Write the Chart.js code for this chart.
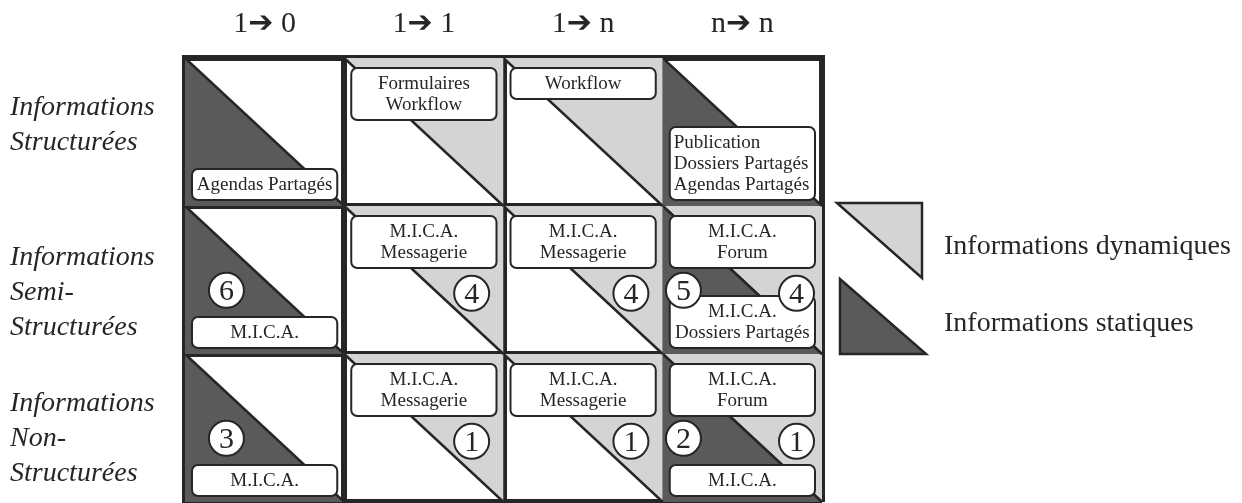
<!DOCTYPE html>
<html>
<head>
<meta charset="utf-8">
<script src="https://cdn.jsdelivr.net/npm/chart.js@4.4.1/dist/chart.umd.min.js"></script>
<style>
html, body { margin: 0; padding: 0; background: #fff; }
</style>
</head>
<body>
<canvas id="matrix" width="1242" height="503"></canvas>
<script>
// axes
const colLabels = ['1➔ 0', '1➔ 1', '1➔ n', 'n➔ n']
const rowLabels = [
    ['Informations', 'Structurées'],
    ['Informations', 'Semi-', 'Structurées'],
    ['Informations', 'Non-', 'Structurées']
]

// which half of each cell is shaded (rows x cols)
const staticCells  = [[1, 0, 0, 1], [1, 0, 0, 1], [1, 0, 0, 1]]
const dynamicCells = [[0, 1, 1, 0], [0, 1, 1, 1], [0, 1, 1, 1]]

// numbers in the circles
const staticCounts  = [[null, null, null, null], [6, null, null, 5], [3, null, null, 2]]
const dynamicCounts = [[null, null, null, null], [null, 4, 4, 4], [null, 1, 1, 1]]

// tools written in the boxes
const staticTools = [
    [['Agendas Partagés'], null, null, ['Publication', 'Dossiers Partagés', 'Agendas Partagés']],
    [['M.I.C.A.'], null, null, ['M.I.C.A.', 'Dossiers Partagés']],
    [['M.I.C.A.'], null, null, ['M.I.C.A.']]
]
const dynamicTools = [
    [null, ['Formulaires', 'Workflow'], ['Workflow'], null],
    [null, ['M.I.C.A.', 'Messagerie'], ['M.I.C.A.', 'Messagerie'], ['M.I.C.A.', 'Forum']],
    [null, ['M.I.C.A.', 'Messagerie'], ['M.I.C.A.', 'Messagerie'], ['M.I.C.A.', 'Forum']]
]

const legendLabels = ['Informations dynamiques', 'Informations statiques']

const INK = '#262626'
const DARK = '#5a5a5a'
const LIGHT = '#d4d4d4'
const SERIF = "'Liberation Serif', 'DejaVu Sans', serif"

let nRows = rowLabels.length
let nCols = colLabels.length

// small vertical nudge of the row titles (in rows)
let rowTitleNudge = [-0.047, 0.084, 0.071]

// triangles: diagonal of each cell filled down (static) or up (dynamic)
let datasets = []
for (let r = 0; r < nRows; r++) {
    for (let c = 0; c < nCols; c++) {
        let diag = [{ x: c, y: r }, { x: c + 1, y: r + 1 }]
        if (staticCells[r][c]) {
            datasets.push({
                type: 'line', data: diag, fill: { value: r + 1 },
                backgroundColor: DARK, borderColor: INK, borderWidth: 2.5,
                pointRadius: 0, tension: 0, order: 2
            })
        }
        if (dynamicCells[r][c]) {
            datasets.push({
                type: 'line', data: diag, fill: { value: r },
                backgroundColor: LIGHT, borderColor: INK, borderWidth: 2.5,
                pointRadius: 0, tension: 0, order: 2
            })
        }
    }
}

// circles with counts
let circles = []
for (let r = 0; r < nRows; r++) {
    for (let c = 0; c < nCols; c++) {
        if (staticCounts[r][c] != null) {
            let dx = dynamicCells[r][c] ? 0.13 : 0.26
            circles.push({ x: c + dx, y: r + 0.57, n: staticCounts[r][c] })
        }
        if (dynamicCounts[r][c] != null) {
            let dx = c === nCols - 1 ? 0.84 : 0.8
            circles.push({ x: c + dx, y: r + 0.59, n: dynamicCounts[r][c] })
        }
    }
}
datasets.push({
    type: 'line', data: circles, showLine: false, isCounts: true,
    pointRadius: 17.5, pointBackgroundColor: '#fff', pointBorderColor: INK,
    pointBorderWidth: 2, order: 0
})

function drawBox(ctx, lines, left, top, width, alignLeft) {
    let h = lines.length * 21 + 10
    ctx.beginPath()
    ctx.roundRect(left, top, width, h, 6)
    ctx.fillStyle = '#fff'
    ctx.fill()
    ctx.lineWidth = 2
    ctx.strokeStyle = INK
    ctx.stroke()
    ctx.fillStyle = INK
    ctx.font = '19px ' + SERIF
    ctx.textBaseline = 'alphabetic'
    ctx.textAlign = alignLeft ? 'left' : 'center'
    lines.forEach((t, i) => {
        let tx = alignLeft ? left + 4 : left + width / 2
        ctx.fillText(t, tx, top + 5 + 21 * i + 16)
    })
}

const toolBoxes = {
    id: 'toolBoxes',
    beforeDatasetDraw(chart, args) {
        if (!chart.data.datasets[args.index].isCounts) return
        const { ctx, scales: { x, y } } = chart
        ctx.save()
        for (let r = 0; r < nRows; r++) {
            for (let c = 0; c < nCols; c++) {
                let left = x.getPixelForValue(c) + 7
                let w = x.getPixelForValue(c + 1) - 7 - left
                let top = y.getPixelForValue(r)
                let bottom = y.getPixelForValue(r + 1)
                if (dynamicTools[r][c]) {
                    drawBox(ctx, dynamicTools[r][c], left, top + 10, w, false)
                }
                if (staticTools[r][c]) {
                    let lines = staticTools[r][c]
                    let h = lines.length * 21 + 10
                    drawBox(ctx, lines, left, bottom - 6 - h, w, lines.length > 2)
                }
            }
        }
        ctx.restore()
    },
    afterDatasetsDraw(chart) {
        const { ctx } = chart
        chart.data.datasets.forEach((ds, i) => {
            if (!ds.isCounts) return
            let meta = chart.getDatasetMeta(i)
            ctx.save()
            ctx.fillStyle = INK
            ctx.font = '30px ' + SERIF
            ctx.textAlign = 'center'
            ctx.textBaseline = 'alphabetic'
            meta.data.forEach((pt, j) => {
                ctx.fillText(String(ds.data[j].n), pt.x, pt.y + 10)
            })
            ctx.restore()
        })
    },
    afterDraw(chart) {
        // legend on the right
        const { ctx, chartArea } = chart
        let lx = chartArea.right + 15
        ctx.save()
        ctx.lineWidth = 2.5
        ctx.strokeStyle = INK
        ctx.lineJoin = 'miter'
        ctx.beginPath()
        ctx.moveTo(lx, 203)
        ctx.lineTo(lx + 85, 203)
        ctx.lineTo(lx + 85, 278)
        ctx.closePath()
        ctx.fillStyle = LIGHT
        ctx.fill()
        ctx.stroke()
        ctx.beginPath()
        ctx.moveTo(lx + 3, 279)
        ctx.lineTo(lx + 3, 354)
        ctx.lineTo(lx + 89, 354)
        ctx.closePath()
        ctx.fillStyle = DARK
        ctx.fill()
        ctx.stroke()
        ctx.fillStyle = INK
        ctx.font = '28px ' + SERIF
        ctx.textAlign = 'left'
        ctx.textBaseline = 'alphabetic'
        ctx.fillText(legendLabels[0], lx + 107, 254)
        ctx.fillText(legendLabels[1], lx + 107, 331)
        ctx.restore()
    }
}

let gridColor = (ctx) => ctx.tick && ctx.tick.value % 1 === 0 ? INK : 'rgba(0,0,0,0)'

let xTicks = []
for (let i = 0; i <= nCols * 2; i++) xTicks.push(i / 2)
let yTicks = []
for (let r = 0; r <= nRows; r++) {
    yTicks.push(r)
    if (r < nRows) yTicks.push(r + 0.5 + rowTitleNudge[r])
}

let matrix = new Chart(document.querySelector('#matrix'), {
    type: 'line',
    data: { datasets: datasets },
    plugins: [toolBoxes],
    options: {
        responsive: false,
        animation: false,
        events: [],
        layout: { autoPadding: false, padding: { left: 10, right: 420, top: 0, bottom: 1 } },
        scales: {
            x: {
                type: 'linear', position: 'top', min: 0, max: nCols, z: 1,
                afterBuildTicks: (s) => { s.ticks = xTicks.map(v => ({ value: v })) },
                afterFit: (s) => { s.height = 58; s.paddingLeft = 0; s.paddingRight = 0 },
                grid: { color: gridColor, lineWidth: 6, drawTicks: false },
                border: { display: true, color: INK, width: 6 },
                ticks: {
                    autoSkip: false, maxRotation: 0, padding: 16, color: INK,
                    font: { family: SERIF, size: 30 },
                    callback: (v) => v % 1 ? colLabels[Math.floor(v)] : ''
                }
            },
            y: {
                type: 'linear', reverse: true, min: 0, max: nRows, z: 1,
                afterBuildTicks: (s) => { s.ticks = yTicks.map(v => ({ value: v })) },
                afterFit: (s) => { s.width = 175; s.paddingTop = 0; s.paddingBottom = 0 },
                grid: { color: gridColor, lineWidth: 6, drawTicks: false },
                border: { display: true, color: INK, width: 6 },
                ticks: {
                    autoSkip: false, crossAlign: 'far', color: INK,
                    font: { family: SERIF, size: 28, style: 'italic', lineHeight: 1.25 },
                    callback: (v) => v % 1 ? rowLabels[Math.floor(v)] : ''
                }
            }
        },
        plugins: {
            legend: { display: false },
            tooltip: { enabled: false }
        }
    }
})
</script>
</body>
</html>
